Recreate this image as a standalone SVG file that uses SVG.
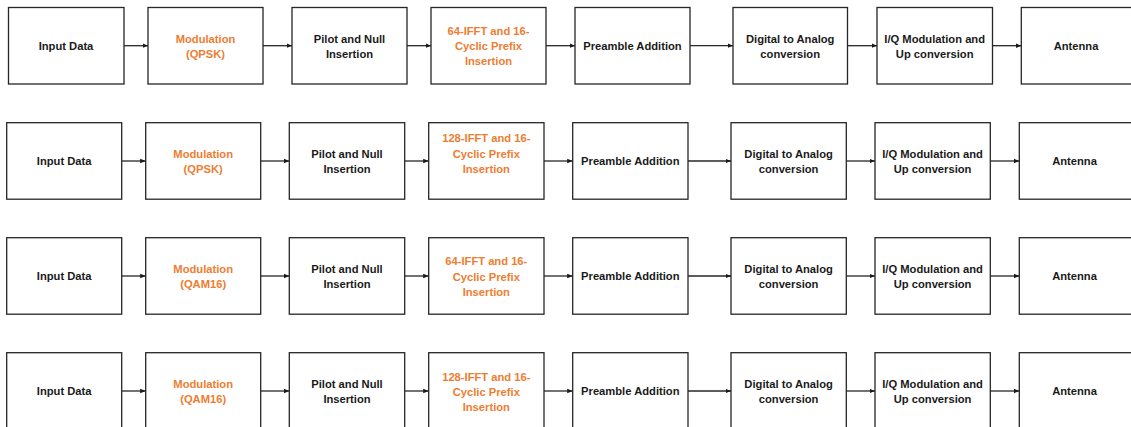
<svg xmlns="http://www.w3.org/2000/svg" width="1131" height="427" viewBox="0 0 1131 427">
  <style>
    .box { fill: #ffffff; stroke: #262626; stroke-width: 1.3; }
    .lbl { font-family: "Liberation Sans", Arial, sans-serif; font-size: 11.2px; font-weight: bold; fill: #1a1a1a; text-anchor: middle; dominant-baseline: central; }
    .hl { fill: #ED7D31; }
    .link { stroke: #262626; stroke-width: 1.3; fill: none; marker-end: url(#head); }
  </style>
  <defs>
    <marker id="head" markerUnits="userSpaceOnUse" markerWidth="6" markerHeight="6" refX="5.5" refY="3" orient="auto">
      <path d="M0,0.7 L5.5,3 L0,5.3 z" fill="#1a1a1a"/>
    </marker>
  </defs>
  <rect width="1131" height="427" fill="#ffffff"/>

  <!-- Chain 1: QPSK, 64-IFFT -->
  <g id="r1-input"><rect class="box" x="8.5" y="7.5" width="115.5" height="76.5"/><text class="lbl" x="66" y="45.7">Input Data</text></g>
  <g id="r1-mod"><rect class="box" x="148" y="7.5" width="115" height="76.5"/><text class="lbl hl" x="205.5" y="38.7">Modulation</text><text class="lbl hl" x="205.5" y="53.7">(QPSK)</text></g>
  <g id="r1-pilot"><rect class="box" x="292" y="7.5" width="115" height="76.5"/><text class="lbl" x="349.5" y="38.7">Pilot and Null</text><text class="lbl" x="349.5" y="53.7">Insertion</text></g>
  <g id="r1-ifft"><rect class="box" x="431" y="7.5" width="115" height="76.5"/><text class="lbl hl" x="488.5" y="31">64-IFFT and 16-</text><text class="lbl hl" x="488.5" y="46">Cyclic Prefix</text><text class="lbl hl" x="488.5" y="61">Insertion</text></g>
  <g id="r1-pre"><rect class="box" x="575" y="7.5" width="115" height="76.5"/><text class="lbl" x="632.5" y="45.7">Preamble Addition</text></g>
  <g id="r1-dac"><rect class="box" x="733" y="7.5" width="114.5" height="76.5"/><text class="lbl" x="790.2" y="38.7">Digital to Analog</text><text class="lbl" x="790.2" y="53.7">conversion</text></g>
  <g id="r1-iq"><rect class="box" x="877" y="7.5" width="115.5" height="76.5"/><text class="lbl" x="934.7" y="38.7">I/Q Modulation and</text><text class="lbl" x="934.7" y="53.7">Up conversion</text></g>
  <g id="r1-ant"><rect class="box" x="1021.3" y="7.5" width="116" height="76.5"/><text class="lbl" x="1076" y="45.7">Antenna</text></g>

  <!-- Chain 2: QPSK, 128-IFFT -->
  <g id="r2-input"><rect class="box" x="6.7" y="122.7" width="115" height="76.5"/><text class="lbl" x="64.2" y="161">Input Data</text></g>
  <g id="r2-mod"><rect class="box" x="145.7" y="122.7" width="115" height="76.5"/><text class="lbl hl" x="203.2" y="154">Modulation</text><text class="lbl hl" x="203.2" y="169">(QPSK)</text></g>
  <g id="r2-pilot"><rect class="box" x="289.3" y="122.7" width="115.4" height="76.5"/><text class="lbl" x="347" y="154">Pilot and Null</text><text class="lbl" x="347" y="169">Insertion</text></g>
  <g id="r2-ifft"><rect class="box" x="428.7" y="122.7" width="115.3" height="76.5"/><text class="lbl hl" x="486.3" y="138">128-IFFT and 16-</text><text class="lbl hl" x="486.3" y="153.5">Cyclic Prefix</text><text class="lbl hl" x="486.3" y="168.5">Insertion</text></g>
  <g id="r2-pre"><rect class="box" x="572.7" y="122.7" width="115.3" height="76.5"/><text class="lbl" x="630.3" y="161">Preamble Addition</text></g>
  <g id="r2-dac"><rect class="box" x="731" y="122.7" width="115.3" height="76.5"/><text class="lbl" x="788.6" y="154">Digital to Analog</text><text class="lbl" x="788.6" y="169">conversion</text></g>
  <g id="r2-iq"><rect class="box" x="875" y="122.7" width="115.3" height="76.5"/><text class="lbl" x="932.6" y="154">I/Q Modulation and</text><text class="lbl" x="932.6" y="169">Up conversion</text></g>
  <g id="r2-ant"><rect class="box" x="1019.3" y="122.7" width="116" height="76.5"/><text class="lbl" x="1074.5" y="161">Antenna</text></g>

  <!-- Chain 3: QAM16, 64-IFFT -->
  <g id="r3-input"><rect class="box" x="6.7" y="237.7" width="115" height="76.5"/><text class="lbl" x="64.2" y="276">Input Data</text></g>
  <g id="r3-mod"><rect class="box" x="145.7" y="237.7" width="115" height="76.5"/><text class="lbl hl" x="203.2" y="269">Modulation</text><text class="lbl hl" x="203.2" y="284">(QAM16)</text></g>
  <g id="r3-pilot"><rect class="box" x="289.3" y="237.7" width="115.4" height="76.5"/><text class="lbl" x="347" y="269">Pilot and Null</text><text class="lbl" x="347" y="284">Insertion</text></g>
  <g id="r3-ifft"><rect class="box" x="428.7" y="237.7" width="115.3" height="76.5"/><text class="lbl hl" x="486.3" y="261">64-IFFT and 16-</text><text class="lbl hl" x="486.3" y="276.5">Cyclic Prefix</text><text class="lbl hl" x="486.3" y="291.5">Insertion</text></g>
  <g id="r3-pre"><rect class="box" x="572.7" y="237.7" width="115.3" height="76.5"/><text class="lbl" x="630.3" y="276">Preamble Addition</text></g>
  <g id="r3-dac"><rect class="box" x="731" y="237.7" width="115.3" height="76.5"/><text class="lbl" x="788.6" y="269">Digital to Analog</text><text class="lbl" x="788.6" y="284">conversion</text></g>
  <g id="r3-iq"><rect class="box" x="875" y="237.7" width="115.3" height="76.5"/><text class="lbl" x="932.6" y="269">I/Q Modulation and</text><text class="lbl" x="932.6" y="284">Up conversion</text></g>
  <g id="r3-ant"><rect class="box" x="1019.3" y="237.7" width="116" height="76.5"/><text class="lbl" x="1074.5" y="276">Antenna</text></g>

  <!-- Chain 4: QAM16, 128-IFFT -->
  <g id="r4-input"><rect class="box" x="6.7" y="352.7" width="115" height="76.5"/><text class="lbl" x="64.2" y="391">Input Data</text></g>
  <g id="r4-mod"><rect class="box" x="145.7" y="352.7" width="115" height="76.5"/><text class="lbl hl" x="203.2" y="384">Modulation</text><text class="lbl hl" x="203.2" y="399">(QAM16)</text></g>
  <g id="r4-pilot"><rect class="box" x="289.3" y="352.7" width="115.4" height="76.5"/><text class="lbl" x="347" y="384">Pilot and Null</text><text class="lbl" x="347" y="399">Insertion</text></g>
  <g id="r4-ifft"><rect class="box" x="428.7" y="352.7" width="115.3" height="76.5"/><text class="lbl hl" x="486.3" y="376.5">128-IFFT and 16-</text><text class="lbl hl" x="486.3" y="392">Cyclic Prefix</text><text class="lbl hl" x="486.3" y="407">Insertion</text></g>
  <g id="r4-pre"><rect class="box" x="572.7" y="352.7" width="115.3" height="76.5"/><text class="lbl" x="630.3" y="391">Preamble Addition</text></g>
  <g id="r4-dac"><rect class="box" x="731" y="352.7" width="115.3" height="76.5"/><text class="lbl" x="788.6" y="384">Digital to Analog</text><text class="lbl" x="788.6" y="399">conversion</text></g>
  <g id="r4-iq"><rect class="box" x="875" y="352.7" width="115.3" height="76.5"/><text class="lbl" x="932.6" y="384">I/Q Modulation and</text><text class="lbl" x="932.6" y="399">Up conversion</text></g>
  <g id="r4-ant"><rect class="box" x="1019.3" y="352.7" width="116" height="76.5"/><text class="lbl" x="1074.5" y="391">Antenna</text></g>

  <!-- Connectors -->
  <g id="connectors">
    <path class="link" d="M124,45.7 H148"/>
    <path class="link" d="M263,45.7 H292"/>
    <path class="link" d="M407,45.7 H431"/>
    <path class="link" d="M546,45.7 H575"/>
    <path class="link" d="M690,45.7 H733"/>
    <path class="link" d="M847.5,45.7 H877"/>
    <path class="link" d="M992.5,45.7 H1021.3"/>

    <path class="link" d="M121.7,161 H145.7"/>
    <path class="link" d="M260.7,161 H289.3"/>
    <path class="link" d="M404.7,161 H428.7"/>
    <path class="link" d="M544,161 H572.7"/>
    <path class="link" d="M688,161 H731"/>
    <path class="link" d="M846.3,161 H875"/>
    <path class="link" d="M990.3,161 H1019.3"/>

    <path class="link" d="M121.7,276 H145.7"/>
    <path class="link" d="M260.7,276 H289.3"/>
    <path class="link" d="M404.7,276 H428.7"/>
    <path class="link" d="M544,276 H572.7"/>
    <path class="link" d="M688,276 H731"/>
    <path class="link" d="M846.3,276 H875"/>
    <path class="link" d="M990.3,276 H1019.3"/>

    <path class="link" d="M121.7,391 H145.7"/>
    <path class="link" d="M260.7,391 H289.3"/>
    <path class="link" d="M404.7,391 H428.7"/>
    <path class="link" d="M544,391 H572.7"/>
    <path class="link" d="M688,391 H731"/>
    <path class="link" d="M846.3,391 H875"/>
    <path class="link" d="M990.3,391 H1019.3"/>
  </g>
</svg>
